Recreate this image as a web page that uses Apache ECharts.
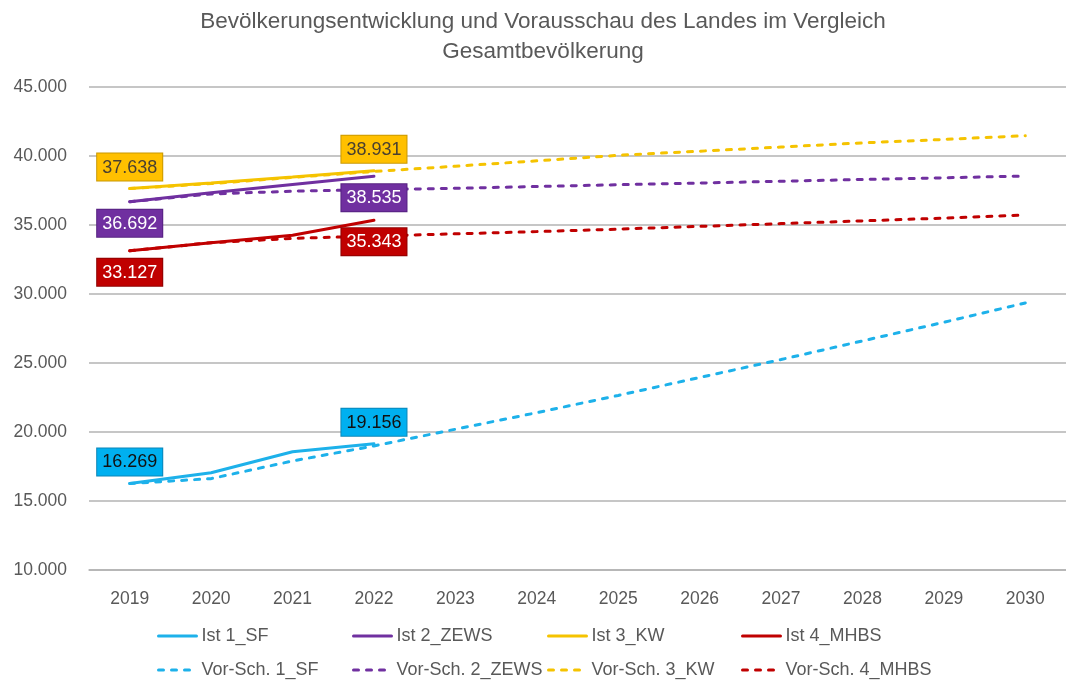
<!DOCTYPE html>
<html>
<head>
<meta charset="utf-8">
<script src="https://cdn.jsdelivr.net/npm/echarts@6/dist/echarts.min.js"></script>
<style>
  html, body { margin: 0; padding: 0; background: #fff; }
  #chart { width: 1066px; height: 683px; }
</style>
</head>
<body>
<div id="chart"></div>
<script>
const years = ["2019", "2020", "2021", "2022", "2023", "2024", "2025", "2026", "2027", "2028", "2029", "2030"];
// Ist-Werte (nur bis 2022)
const ist1SF = [16269, 17050, 18570, 19156];
const ist2ZEWS = [36692, 37330, 37930, 38535];
const ist3KW = [37638, 38050, 38480, 38931];
const ist4MHBS = [33127, 33720, 34260, 35343];
// Vorausschau
const vor1SF = [16269, 16620, 17900, 18990, 20200, 21400, 22650, 23950, 25250, 26600, 27950, 29350];
const vor2ZEWS = [36692, 37250, 37450, 37560, 37660, 37790, 37920, 38040, 38170, 38300, 38420, 38550];
const vor3KW = [37638, 38000, 38450, 38880, 39260, 39650, 40050, 40350, 40650, 40950, 41200, 41470];
const vor4MHBS = [33127, 33720, 34030, 34200, 34360, 34520, 34700, 34900, 35100, 35300, 35500, 35720];
const yTicks = { min: 10000, max: 45000, step: 5000 };

const FONT = "'Liberation Sans', sans-serif";
const GREY = "#595959";

const fmt = (v) => {
  const s = String(Math.round(v));
  return s.replace(/\B(?=(\d{3})+(?!\d))/g, ".");
};

const colors = {
  sf: "#1DB1EA",
  zews: "#7030A0",
  kw: "#F5C300",
  mhbs: "#C00000"
};

const labelStyle = {
  sf: { bg: "#00B0F0", fg: "#111", border: "#0a86b8", pos: "top" },
  zews: { bg: "#7030A0", fg: "#fff", border: "#552080", pos: "bottom" },
  kw: { bg: "#FFC000", fg: "#4a4030", border: "#c99800", pos: "top" },
  mhbs: { bg: "#C00000", fg: "#fff", border: "#8e0000", pos: "bottom" }
};

const withLabels = (arr, key) =>
  arr.map((v, i) => {
    if (i !== 0 && i !== 3) return v;
    const ls = labelStyle[key];
    return {
      value: v,
      label: {
        show: true,
        position: ls.pos,
        distance: 8,
        formatter: (p) => fmt(p.value),
        color: ls.fg,
        backgroundColor: ls.bg,
        borderColor: ls.border,
        borderWidth: 1,
        padding: [5, 5, 4, 5],
        fontSize: 18,
        fontFamily: FONT
      }
    };
  });

// Ist-Linien liegen oben, damit die Beschriftungen nicht überdeckt werden
const solid = (name, data, key) => ({
  name,
  type: "line",
  data: withLabels(data, key),
  showSymbol: true,
  symbol: "circle",
  symbolSize: 0,
  z: 4,
  lineStyle: { color: colors[key], width: 3, cap: "round" },
  itemStyle: { color: colors[key] },
  label: { show: false },
  emphasis: { disabled: true }
});

const dashed = (name, data, key) => ({
  name,
  type: "line",
  data,
  showSymbol: false,
  symbol: "circle",
  symbolSize: 0,
  z: 3,
  lineStyle: { color: colors[key], width: 3, type: [5, 8], cap: "round" },
  itemStyle: { color: colors[key] },
  emphasis: { disabled: true }
});

const series = [
  solid("Ist 1_SF", ist1SF, "sf"),
  solid("Ist 2_ZEWS", ist2ZEWS, "zews"),
  solid("Ist 3_KW", ist3KW, "kw"),
  solid("Ist 4_MHBS", ist4MHBS, "mhbs"),
  dashed("Vor-Sch. 1_SF", vor1SF, "sf"),
  dashed("Vor-Sch. 2_ZEWS", vor2ZEWS, "zews"),
  dashed("Vor-Sch. 3_KW", vor3KW, "kw"),
  dashed("Vor-Sch. 4_MHBS", vor4MHBS, "mhbs")
];

const colLeft = [157, 352, 547, 741];
const rowTop = [627, 661];
const legends = series.map((s, i) => ({
  data: [s.name],
  left: colLeft[i % 4],
  top: rowTop[Math.floor(i / 4)],
  padding: 0,
  itemWidth: 38,
  itemHeight: 14,
  selectedMode: false,
  itemStyle: { opacity: 0 },
  lineStyle: { width: 3 },
  textStyle: { color: GREY, fontSize: 18, fontFamily: FONT }
}));

const myChart = echarts.init(document.getElementById("chart"), null, { renderer: "canvas" });
const option = {
  animation: false,
  backgroundColor: "#fff",
  title: {
    text: "Bevölkerungsentwicklung und Vorausschau des Landes im Vergleich\nGesamtbevölkerung",
    left: 538,
    top: 2,
    textAlign: "center",
    textStyle: {
      color: GREY,
      fontSize: 22.5,
      fontWeight: "normal",
      fontFamily: FONT,
      lineHeight: 30
    }
  },
  legend: legends,
  grid: { left: 89, right: 0, top: 87, bottom: 113, containLabel: false },
  xAxis: {
    type: "category",
    data: years,
    boundaryGap: true,
    axisTick: { show: false },
    axisLine: { show: true, lineStyle: { color: "#b3b3b3", width: 1.5 } },
    axisLabel: { color: GREY, fontSize: 17.5, fontFamily: FONT, margin: 20 }
  },
  yAxis: {
    type: "value",
    min: yTicks.min,
    max: yTicks.max,
    interval: yTicks.step,
    axisLine: { show: false },
    axisTick: { show: false },
    axisLabel: { color: GREY, fontSize: 17.5, fontFamily: FONT, margin: 22, formatter: fmt },
    splitLine: { show: true, lineStyle: { color: "#b3b3b3", width: 1.5 } }
  },
  series
};
option && myChart.setOption(option);
</script>
</body>
</html>
